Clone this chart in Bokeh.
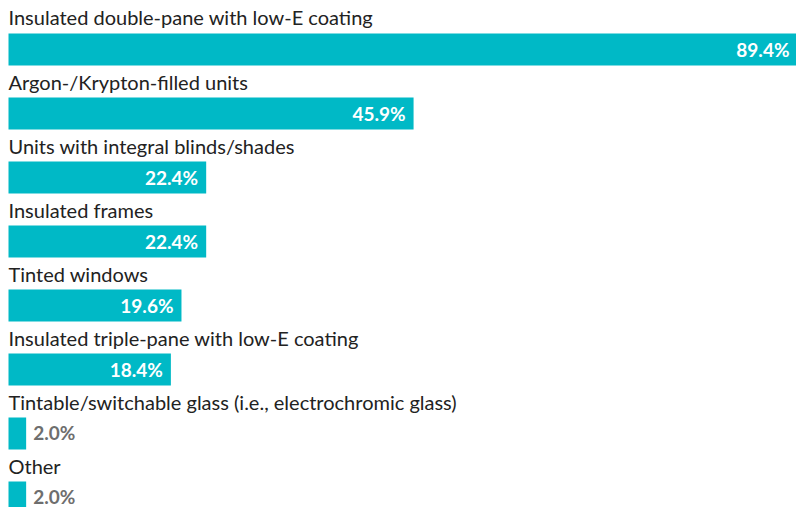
from bokeh.plotting import figure
from bokeh.models import ColumnDataSource, Range1d
from bokeh.core.properties import value
from bokeh.embed import file_html
from bokeh.resources import INLINE

categories = [
    "Insulated double-pane with low-E coating",
    "Argon-/Krypton-filled units",
    "Units with integral blinds/shades",
    "Insulated frames",
    "Tinted windows",
    "Insulated triple-pane with low-E coating",
    "Tintable/switchable glass (i.e., electrochromic glass)",
    "Other",
]
values = [89.4, 45.9, 22.4, 22.4, 19.6, 18.4, 2.0, 2.0]

BAR = "#00B9C6"
FONT = "Lato"

idx = list(range(len(categories)))
src = ColumnDataSource(dict(
    y=idx,
    v=values,
    lab=categories,
    ly=[i - 0.5 for i in idx],
))

inside = [i for i, v in enumerate(values) if v >= 10]
outside = [i for i, v in enumerate(values) if v < 10]
src_in = ColumnDataSource(dict(y=[idx[i] for i in inside], v=[values[i] for i in inside],
                               txt=[f"{values[i]:.1f}%" for i in inside]))
src_out = ColumnDataSource(dict(y=[idx[i] for i in outside], v=[values[i] for i in outside],
                                txt=[f"{values[i]:.1f}%" for i in outside]))

p = figure(width=796, height=507, output_backend="svg", toolbar_location=None,
           x_range=Range1d(-0.9065, 89.29), y_range=Range1d(7.156, -0.7656),
           min_border=0, outline_line_color=None)
p.axis.visible = False
p.grid.visible = False
p.background_fill_color = "white"
p.border_fill_color = "white"

p.hbar(y="y", left=0, right="v", height=0.5, source=src, fill_color=BAR, line_color=None)

p.text(x=0, y="ly", text="lab", source=src, text_font=value(FONT), text_font_size="20px",
       text_color="#222222", text_baseline="middle", text_align="left")

p.text(x="v", y="y", text="txt", source=src_in, text_font=value(FONT), text_font_size="19px",
       text_font_style="bold", text_color="white", text_baseline="middle", text_align="right",
       x_offset=-8)
p.text(x="v", y="y", text="txt", source=src_out, text_font=value(FONT), text_font_size="19px",
       text_font_style="bold", text_color="#6E6E6E", text_baseline="middle", text_align="left",
       x_offset=7, y_offset=-1)

open("out.html", "w").write(file_html(p, INLINE))
